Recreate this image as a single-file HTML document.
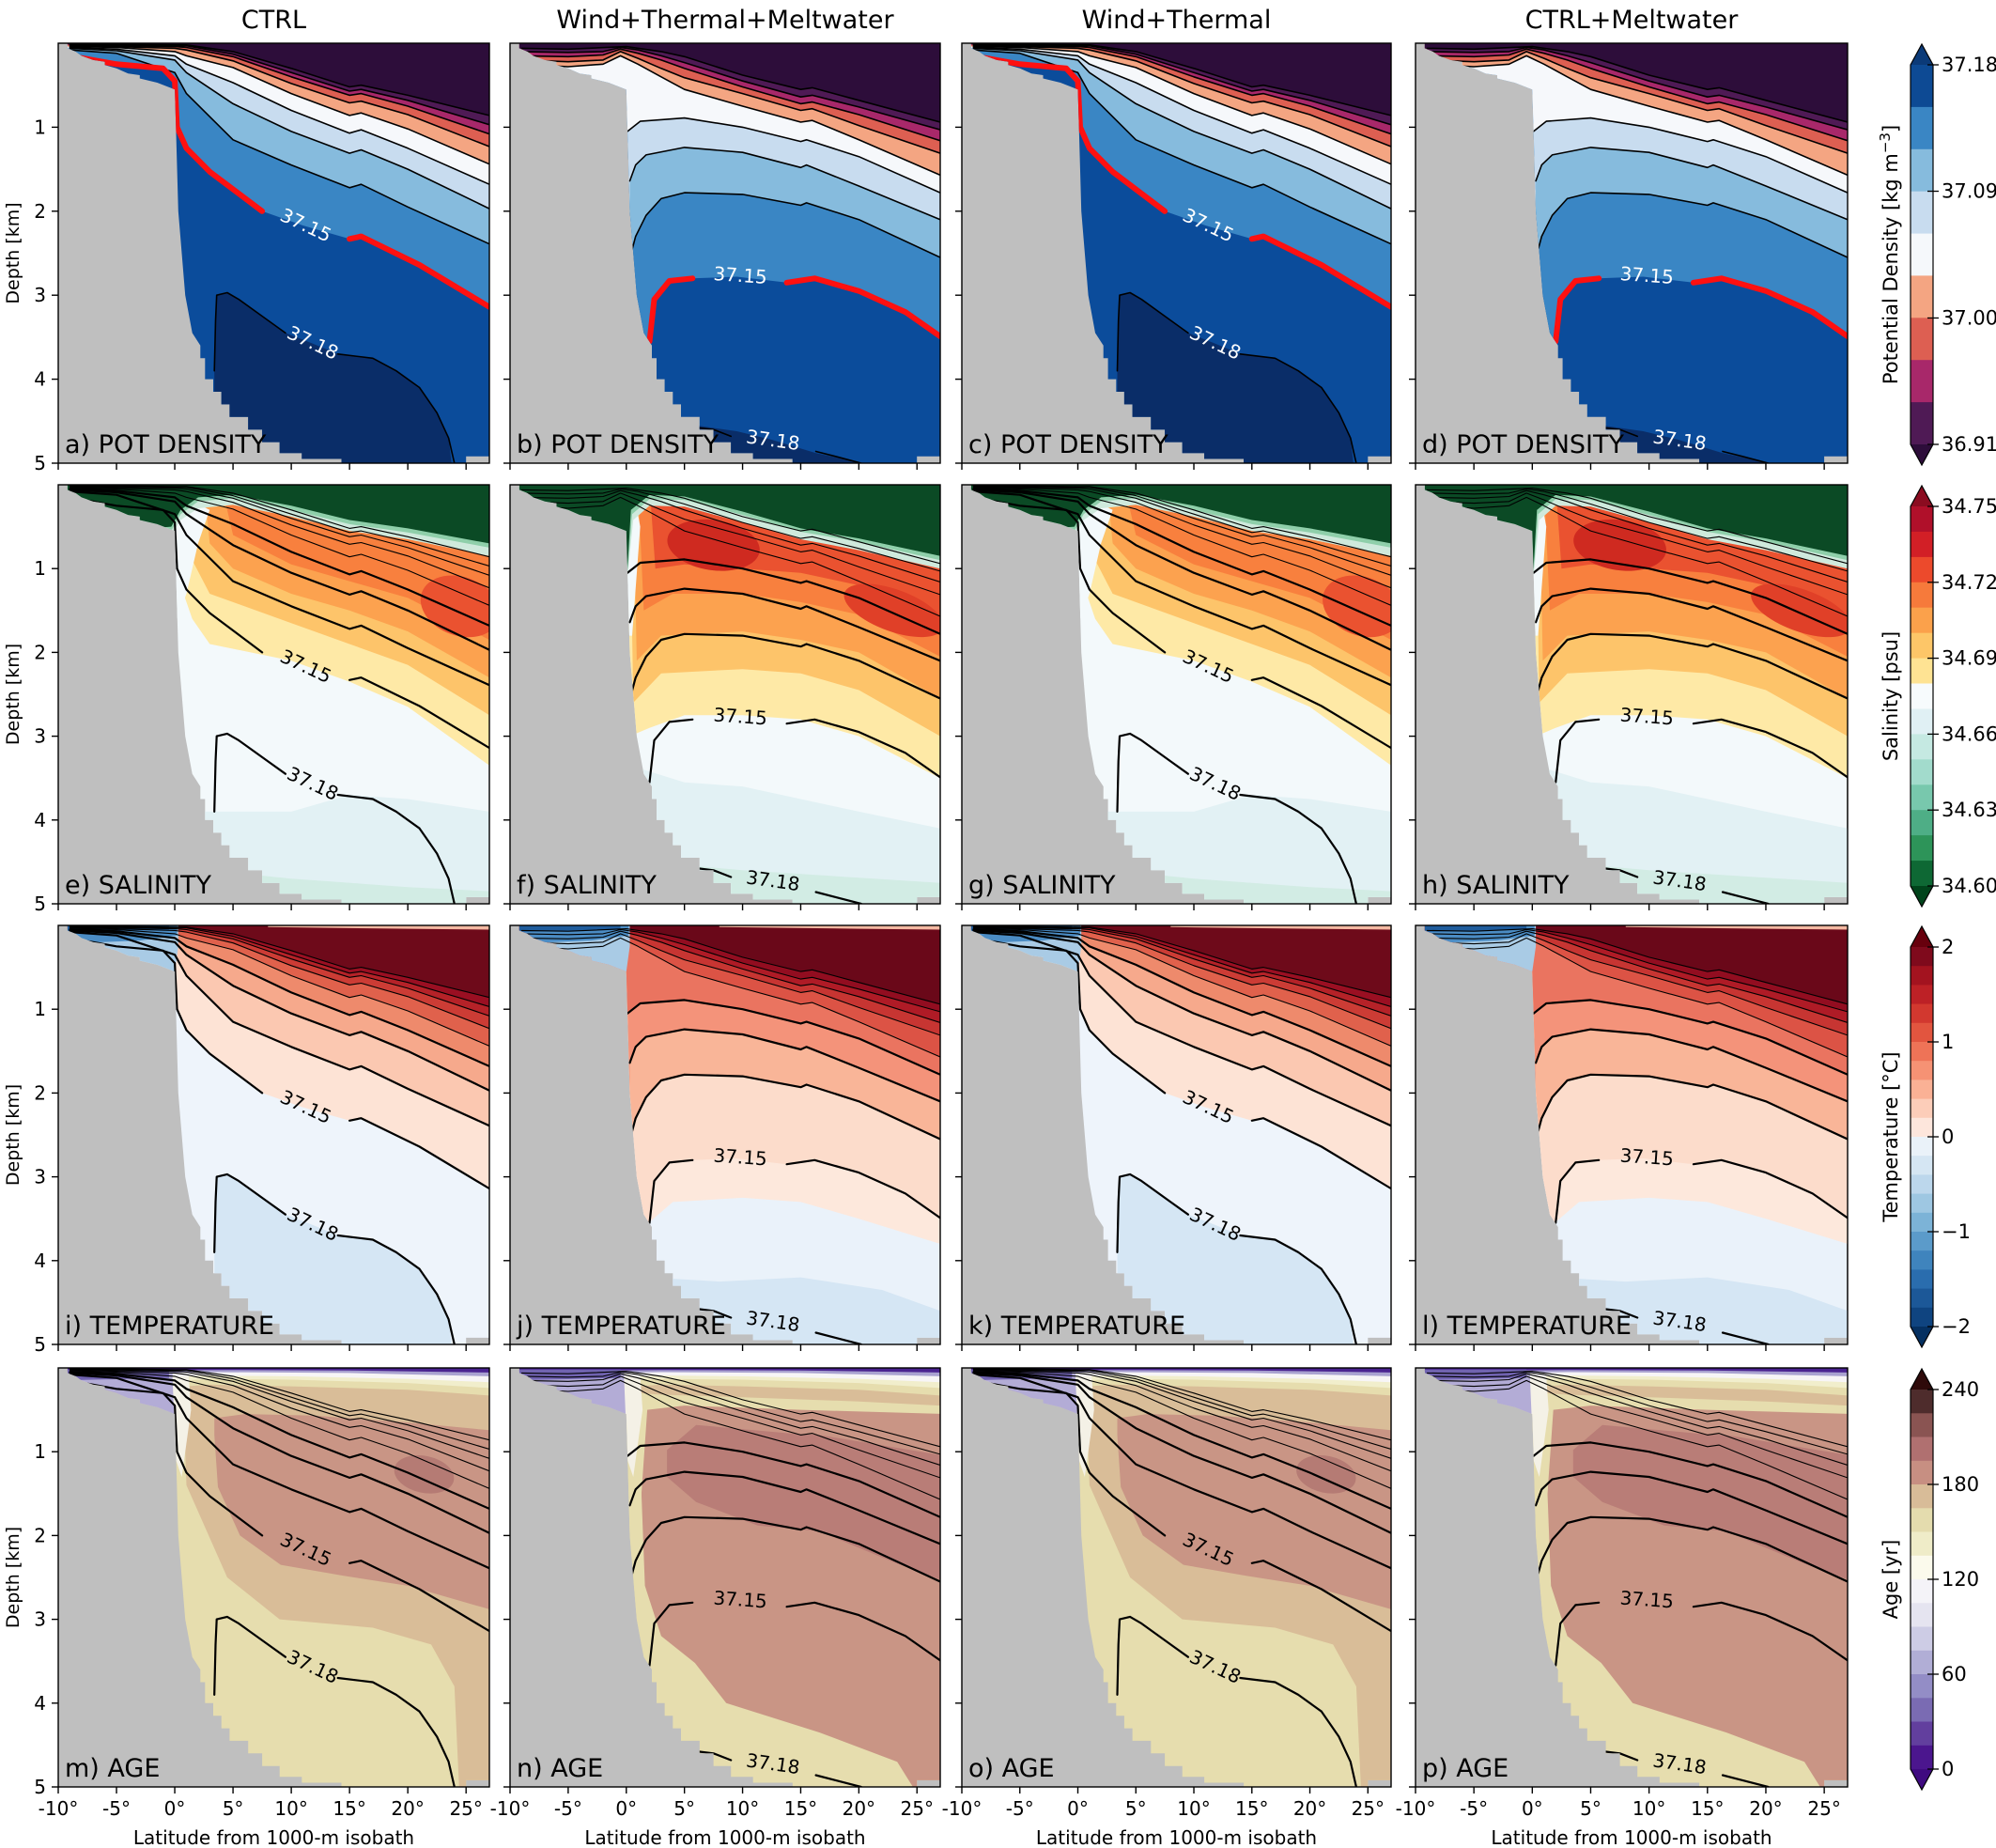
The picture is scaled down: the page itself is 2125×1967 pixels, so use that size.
<!DOCTYPE html>
<html><head><meta charset="utf-8">
<style>body{margin:0;background:#fff}svg{display:block}text{font-family:"DejaVu Sans","Liberation Sans",sans-serif}</style>
</head><body>
<svg id="s" xmlns="http://www.w3.org/2000/svg" width="2125" height="1967" viewBox="0 0 2125 1967"></svg>
<script>
const cols=[[62,521],[543,1001],[1024,1481],[1507,1967]];
const rows=[[46,493],[516,962],[985,1431],[1456,1902]];
let out='',defs='';
function X(c,l){return cols[c][0]+(l+10)/37*(cols[c][1]-cols[c][0]);}
function Y(r,d){return rows[r][0]+d/5*(rows[r][1]-rows[r][0]);}
function pts(c,r,a){return a.map(p=>X(c,p[0]).toFixed(1)+','+Y(r,p[1]).toFixed(1)).join(' ');}
function P(c,r,a,col){out+=`<polygon points="${pts(c,r,a)}" fill="${col}"/>`;}
function above(c,r,cv,col){P(c,r,[[-10.5,cv[0][1]],...cv,[27.5,cv[cv.length-1][1]],[27.5,-1],[-10.5,-1]],col);}
function below(c,r,cv,col){P(c,r,[[-10.5,cv[0][1]],...cv,[27.5,cv[cv.length-1][1]],[27.5,6],[-10.5,6]],col);}
function L(c,r,a,w,col){out+=`<polyline points="${pts(c,r,a)}" fill="none" stroke="${col}" stroke-width="${w}" stroke-linejoin="round" stroke-linecap="round"/>`;}
function E(c,r,l,d,rl,rd,col,rot){const cx=X(c,l),cy=Y(r,d),rx=rl/37*(cols[c][1]-cols[c][0]),ry=rd/5*(rows[r][1]-rows[r][0]);out+=`<ellipse cx="${cx}" cy="${cy}" rx="${rx}" ry="${ry}" fill="${col}" transform="rotate(${rot||0} ${cx} ${cy})"/>`;}
function T(x,y,s,fs,extra){out+=`<text x="${x}" y="${y}" font-size="${fs}" ${extra||''}>${s}</text>`;}
function sub(a,l0){return a.filter(p=>p[0]>=l0);}

const ocean=[[-9.2,0],[27,0],[27,4.92],[25,4.92],[25,5],[14.3,5],[14.3,4.95],[10.9,4.95],[10.9,4.88],[9,4.88],[9,4.75],[7.5,4.75],[7.5,4.6],[6.3,4.6],[6.3,4.45],[4.7,4.45],[4.7,4.3],[4,4.3],[4,4.15],[3.3,4.15],[3.3,4.0],[2.6,4.0],[2.6,3.75],[2.2,3.75],[2.2,3.6],[1.5,3.45],[0.9,3.0],[0.3,2.0],[0.1,1.0],[0,0.55],[-1.5,0.47],[-3,0.42],[-3,0.38],[-4,0.36],[-5,0.3],[-6,0.26],[-6,0.22],[-7,0.2],[-8,0.15],[-8.5,0.1],[-9.2,0.06]];

const Lc=[-10,-9,-5,0,1,5,10,15,16,20,27];
function mk(v){return Lc.map((l,i)=>[l,v[i]]);}
const CT={
 red:[[-10,.15],[-9,.15],[-7,.2],[-5,.25],[-1,.3],[0,.45],[0.2,1.0],[1,1.25],[3,1.53],[7.5,2.0],[11,2.17],[15,2.33],[16,2.3],[21,2.64],[27,3.14]],
 redSeg:[[-9,7.5],[15,27]],
 c:[mk([.08,.08,.12,.35,.6,1.15,1.45,1.72,1.68,1.95,2.39]),
    mk([.06,.06,.09,.2,.35,.72,1.05,1.31,1.27,1.5,1.97]),
    mk([.05,.05,.07,.15,.25,.47,.8,1.07,1.03,1.25,1.68]),
    mk([.04,.04,.05,.1,.15,.29,.6,.86,.83,1.02,1.44]),
    mk([.03,.03,.04,.06,.08,.21,.48,.71,.69,.85,1.23]),
    mk([.02,.02,.03,.04,.05,.16,.4,.62,.6,.75,1.08]),
    mk([.015,.015,.02,.03,.03,.13,.35,.57,.55,.68,.97]),
    mk([.01,.01,.01,.02,.02,.1,.3,.52,.5,.62,.86])],
 cStart:[-9,-9,-9,-9,-9,-9,-9,-9],
 r18:[[3.4,5.3],[3.4,3.9],[3.5,3.3],[3.6,3.0],[4.5,2.97],[5.5,3.05],[8,3.3],[9.5,3.45],[11.75,3.57],[14,3.7],[17,3.75],[19,3.9],[21,4.1],[22.5,4.4],[23.5,4.7],[24,5.3]],
 r18Seg:[[[3.4,3.9],[3.5,3.3],[3.6,3.0],[4.5,2.97],[5.5,3.05],[8,3.3],[9.5,3.45]],[[14,3.7],[17,3.75],[19,3.9],[21,4.1],[22.5,4.4],[23.5,4.7],[24,5]]],
 lab15:[11.2,2.18,25], lab18:[11.8,3.58,25]
};
const MT={
 red:[[-10,5],[1.9,5],[2.0,3.55],[2.4,3.05],[3.7,2.83],[5.7,2.8],[9.5,2.78],[13.8,2.85],[16.2,2.8],[20,2.95],[24,3.2],[27,3.49]],
 redSeg:[[2,5.7],[13.8,27]],
 c:[[[-10,5],[0.3,5],[0.4,2.51],[0.8,2.3],[1.7,2.05],[3,1.85],[5,1.78],[10,1.8],[15,1.93],[15.5,1.9],[20,2.1],[27,2.55]],
    [[-10,5],[0.2,5],[0.3,1.64],[0.8,1.45],[1.7,1.33],[5,1.24],[10,1.3],[15,1.48],[15.5,1.45],[20,1.7],[27,2.1]],
    [[-10,5],[0,5],[0.1,1.05],[1.2,0.93],[5,0.89],[10,1.0],[15,1.17],[15.5,1.15],[20,1.35],[27,1.78]],
    [[-10,.25],[-9,0.25],[-5,0.28],[-2,0.25],[-0.5,0.15],[1,0.25],[3,0.4],[5,0.55],[10,0.75],[15,0.94],[16,0.92],[20,1.15],[27,1.57]],
    [[-10,.2],[-9,0.2],[-5,0.22],[-2,0.2],[-0.5,0.1],[1,0.18],[3,0.3],[5,0.41],[10,0.6],[15,0.8],[16,0.78],[20,0.98],[27,1.31]],
    [[-10,.15],[-9,0.15],[-5,0.16],[-2,0.14],[-0.5,0.07],[1,0.12],[3,0.2],[5,0.3],[10,0.52],[15,0.72],[16,0.7],[20,0.85],[27,1.16]],
    [[-10,.1],[-9,0.1],[-5,0.11],[-2,0.1],[-0.5,0.05],[1,0.08],[3,0.15],[5,0.23],[10,0.45],[15,0.64],[16,0.62],[20,0.76],[27,1.03]],
    [[-10,.06],[-9,0.06],[-5,0.07],[0,0.04],[3,0.1],[5,0.16],[10,0.38],[15,0.55],[16,0.53],[20,0.68],[27,0.94]]],
 cStart:[0.4,0.3,0.1,-9,-9,-9,-9,-9],
 r18:[[6,5.3],[6,4.55],[7,4.57],[9.5,4.62],[12.5,4.72],[16.3,4.88],[18,4.93],[20.2,5.0],[21,5.3]],
 r18Seg:[[[6.3,4.58],[7.5,4.6],[9,4.68]],[[16.3,4.86],[18,4.92],[20.2,5.0]]],
 lab15:[9.8,2.78,4], lab18:[12.6,4.74,8]
};

function densFill(c,r,S,pal){
  out+=`<rect x="${cols[c][0]}" y="${rows[r][0]}" width="${cols[c][1]-cols[c][0]}" height="${rows[r][1]-rows[r][0]}" fill="${pal[1]}"/>`;
  P(c,r,S.r18,pal[0]);
  above(c,r,S.red,pal[2]);
  S.c.forEach((cv,i)=>above(c,r,cv,pal[3+i]));
}
function lines(c,r,S,row){
  const thin=row==0?1.5:1.1, thick=row==0?1.6:2.2;
  S.c.forEach((cv,i)=>{L(c,r,sub(cv,S.cStart[i]),i<3||row==0?(row==0?1.6:thick):thin,'#000');});
  S.r18Seg.forEach(sg=>L(c,r,sg,thick,'#000'));
  const rc=row==0?'#ff1010':'#000', rw=row==0?6:thick;
  S.redSeg.forEach(([a,b])=>L(c,r,S.red.filter(p=>p[0]>=a&&p[0]<=b),rw,rc));
  const fc=row==0?'#fff':'#000';
  [[S.lab15,'37.15'],[S.lab18,'37.18']].forEach(([p,s])=>{const x=X(c,p[0]),y=Y(r,p[1]);
    out+=`<text x="${x}" y="${y}" font-size="20" fill="${fc}" text-anchor="middle" dominant-baseline="middle" transform="rotate(${p[2]} ${x} ${y})">${s}</text>`;});
}

const densPal=['#0a2d68','#0b4c9b','#3a86c4','#86bbdd','#c8dcef','#f6f8fb','#f4a582','#dd5f52','#a8286a','#4f1a55','#2d0d3a'];
const tempPalC=['#d5e6f4','#eef4fb','#fde3d5','#fbc8b1','#f6a98c','#ee8a6c','#e0614c','#cc3c35','#b52228','#9a0f22','#6e0a1a'];
const tempPalM=['#d5e6f4','#f3f6fa','#fcd4c1','#f9b598','#f4937a','#ea7460','#dc5345','#c73532','#af1b26','#920d20','#6a0819'];

function salinity(c,r,melt){
  out+=`<rect x="${cols[c][0]}" y="${rows[r][0]}" width="459" height="447" fill="#f3f9fb"/>`;
  if(!melt){
    below(c,r,[[3,3.9],[10,3.9],[15,3.7],[20,3.75],[27,3.9]],'#e2f1f4');
    below(c,r,[[3,4.6],[10,4.7],[20,4.8],[27,4.85]],'#d2ece4');
    above(c,r,[[-10,0],[0.3,0],[0.5,1.2],[1.5,1.6],[3,1.9],[10,2.1],[15,2.35],[20,2.65],[27,3.35]],'#fee9a6');
    above(c,r,[[-10,0],[1,0],[1.5,0.9],[3,1.3],[10,1.65],[15,1.9],[20,2.15],[27,2.75]],'#fdc46a');
    above(c,r,[[-10,0],[2.5,0],[3,0.7],[5,1.0],[10,1.3],[15,1.5],[20,1.75],[27,2.3]],'#fca24f');
    above(c,r,[[-10,0],[4,0],[5,0.6],[10,0.95],[15,1.15],[20,1.35],[27,1.85]],'#f8803e');
    E(c,r,24.5,1.45,3.5,0.35,'#ea5230',20);
    P(c,r,[[-0.2,0.3],[1.5,0.2],[3,0.3],[2,0.7],[1,1.3],[0.2,1.6]],'#f3f9fb');
    above(c,r,[[-10,0.7],[-0.3,0.6],[0.5,0.42],[2,0.28],[5,0.24],[10,0.38],[15,0.55],[20,0.65],[27,0.85]],'#cfe9dc');
    above(c,r,[[-10,0.6],[-0.3,0.55],[0.5,0.35],[2,0.2],[5,0.16],[10,0.3],[15,0.47],[20,0.57],[27,0.75]],'#8fcfaa');
    above(c,r,[[-10,0.6],[-0.3,0.5],[0.5,0.3],[2,0.15],[5,0.12],[10,0.25],[15,0.42],[20,0.52],[27,0.7]],'#0b4a25');
  } else {
    below(c,r,[[1.5,3.4],[5,3.55],[10,3.6],[20,3.9],[27,4.1]],'#e2f1f4');
    below(c,r,[[2,4.5],[10,4.6],[27,4.75]],'#d2ece4');
    above(c,r,[[-10,0],[0.1,0],[0.3,3.0],[2,2.9],[5,2.75],[10,2.75],[15,2.8],[20,3.0],[27,3.5]],'#fee9a6');
    above(c,r,[[-10,0],[0.3,0],[0.6,2.6],[3,2.25],[10,2.2],[15,2.25],[20,2.45],[27,3.0]],'#fdc46a');
    above(c,r,[[-10,0],[0.6,0],[0.9,2.1],[3,1.8],[10,1.75],[15,1.85],[20,2.0],[27,2.55]],'#fca24f');
    above(c,r,[[-10,0],[1,0],[1.5,1.5],[4,1.3],[10,1.3],[15,1.4],[20,1.55],[27,2.05]],'#f8803e');
    above(c,r,[[-10,0],[2,0],[2.5,1.0],[5,0.95],[10,1.0],[15,1.05],[20,1.2],[27,1.6]],'#ea5230');
    E(c,r,7.5,0.72,4,0.3,'#cf2a20',8);
    E(c,r,23,1.5,4.5,0.25,'#e04028',20);
    P(c,r,[[-0.2,0.3],[0.8,0.2],[1.2,0.5],[0.5,1.8],[0.1,1.8]],'#f3f9fb');
    above(c,r,[[-10,0.7],[-0.2,0.65],[0.1,1.1],[0.6,0.42],[2,0.25],[5,0.26],[10,0.45],[15,0.65],[20,0.78],[27,1.0]],'#cfe9dc');
    above(c,r,[[-10,0.6],[-0.2,0.58],[0.1,1.05],[0.5,0.35],[2,0.17],[5,0.18],[10,0.36],[15,0.56],[20,0.68],[27,0.9]],'#8fcfaa');
    above(c,r,[[-10,0.6],[-0.2,0.55],[0.1,1.0],[0.4,0.3],[2,0.12],[5,0.14],[10,0.32],[15,0.52],[20,0.64],[27,0.85]],'#0b4a25');
  }
}
function temperature(c,r,melt){
  if(!melt){ densFill(c,r,CT,tempPalC); }
  else{
    out+=`<rect x="${cols[c][0]}" y="${rows[r][0]}" width="459" height="447" fill="#eaf2fa"/>`;
    below(c,r,[[2,4.2],[8,4.25],[15,4.2],[22,4.35],[27,4.6]],'#d5e6f4');
    above(c,r,[[-10,5],[1,5],[1.5,3.6],[4,3.3],[10,3.25],[15,3.3],[20,3.5],[27,3.8]],'#fde8dc');
    above(c,r,MT.red,'#fcdccb');
    MT.c.forEach((cv,i)=>above(c,r,cv,tempPalM[3+i]));
  }
  P(c,r,[[-10,-0.1],[0.3,-0.1],[0.3,0.25],[0,0.55],[-10,0.6]],'#a9cbe5');
  P(c,r,[[-10,-0.1],[0.2,-0.1],[0.2,0.12],[-3,0.18],[-10,0.22]],'#4b8cc4');
  P(c,r,[[-10,-0.1],[-0.5,-0.1],[-0.5,0.05],[-10,0.08]],'#1f5c9c');
  P(c,r,[[8,-0.1],[27.5,-0.1],[27.5,0.05],[20,0.04],[8,0.02]],'#f4b9a2');
}
function age(c,r,melt){
  out+=`<rect x="${cols[c][0]}" y="${rows[r][0]}" width="459" height="447" fill="#e6ddae"/>`;
  if(!melt){
    P(c,r,[[0.5,-1],[0.8,0.6],[1,1.4],[4.5,2.5],[9,3.0],[17,3.1],[22,3.3],[24,3.8],[24.5,5.3],[27.5,5.3],[27.5,-1]],'#d9bd98');
    P(c,r,[[3.4,0.6],[3.4,0.8],[3.7,1.42],[5.6,2.0],[9.1,2.35],[14.5,2.48],[20,2.6],[27.5,2.9],[27.5,0.75],[20,0.65],[12,0.57],[6,0.55]],'#c99585');
    E(c,r,21.4,1.27,2.6,0.22,'#b57b74',12);
  } else {
    P(c,r,[[1.8,0.5],[1.3,1.5],[1.6,2.6],[3,3.2],[5.9,3.52],[8.6,4.0],[16.6,4.35],[23.3,4.7],[26,5.3],[27.5,5.3],[27.5,0.55],[15,0.5],[5,0.45]],'#c99585');
    P(c,r,[[3.5,0.98],[6,0.68],[14,0.78],[16.6,0.8],[27.5,1.05],[27.5,2.55],[23,2.32],[16.6,1.95],[11.3,1.88],[6,1.6],[3.5,1.3]],'#b97d77');
    P(c,r,[[0,-1],[0,5],[1.5,5],[1.2,2],[1.5,0.6],[1.8,0.45],[1.5,-1]],'#e6ddae');
  }
  above(c,r,[[-10,0.35],[1,0.3],[3,0.32],[10,0.35],[20,0.4],[27,0.45]],'#d9bd98');
  above(c,r,[[-10,0.25],[1,0.22],[3,0.2],[10,0.22],[20,0.26],[27,0.33]],'#e6ddae');
  above(c,r,[[-10,0.2],[1,0.15],[3,0.13],[10,0.14],[20,0.18],[27,0.24]],'#f1eecc');
  above(c,r,[[-10,0.15],[1,0.1],[3,0.09],[10,0.1],[20,0.13],[27,0.17]],'#f7f5f6');
  above(c,r,[[-10,0.08],[3,0.05],[15,0.06],[27,0.1]],'#a9a2d0');
  above(c,r,[[-10,0.04],[3,0.025],[15,0.03],[27,0.055]],'#4a2390');
  P(c,r,[[-10,0.05],[-0.2,0.05],[0,0.6],[-10,0.6]],'#b3acd6');
  P(c,r,[[-10,0.02],[-0.5,0.02],[-0.5,0.12],[-10,0.15]],'#7063b0');
  P(c,r,[[-0.2,0.1],[1.2,0.1],[1.4,0.5],[0.6,1.3],[0.1,1.1]],'#f4f1e6');
}

const rowNames=['POT DENSITY','SALINITY','TEMPERATURE','AGE'];
const letters='abcdefghijklmnop';
for(let r=0;r<4;r++)for(let c=0;c<4;c++){
  const melt=c%2==1, S=melt?MT:CT;
  const x0=cols[c][0],x1=cols[c][1],y0=rows[r][0],y1=rows[r][1];
  out+=`<rect x="${x0}" y="${y0}" width="${x1-x0}" height="${y1-y0}" fill="#bfbfbf"/>`;
  defs+=`<clipPath id="k${r}${c}"><polygon points="${pts(c,r,ocean)}"/></clipPath>`;
  out+=`<g clip-path="url(#k${r}${c})">`;
  if(r==0) densFill(c,r,S,densPal);
  else if(r==1) salinity(c,r,melt);
  else if(r==2) temperature(c,r,melt);
  else age(c,r,melt);
  lines(c,r,S,r);
  out+='</g>';
  out+=`<rect x="${x0}" y="${y0}" width="${x1-x0}" height="${y1-y0}" fill="none" stroke="#000" stroke-width="1.4"/>`;
  T(x0+7,y1-11,letters[r*4+c]+') '+rowNames[r],27);
  for(let d=1;d<=5;d++){const y=Y(r,d);out+=`<line x1="${x0-7}" y1="${y}" x2="${x0}" y2="${y}" stroke="#000" stroke-width="1.4"/>`;
    if(c==0)T(x0-13,y+7,d,20,'text-anchor="end"');}
  for(let l=-10;l<=25;l+=5){const x=X(c,l);out+=`<line x1="${x}" y1="${y1}" x2="${x}" y2="${y1+7}" stroke="#000" stroke-width="1.4"/>`;
    if(r==3)T(x,y1+30,l+'°',20,'text-anchor="middle"');}
  if(r==3)T((x0+x1)/2,1963,'Latitude from 1000-m isobath',20,'text-anchor="middle"');
  if(c==0){const yc=(y0+y1)/2;out+=`<text x="20" y="${yc}" font-size="19" text-anchor="middle" transform="rotate(-90 20 ${yc})">Depth [km]</text>`;}
}
['CTRL','Wind+Thermal+Meltwater','Wind+Thermal','CTRL+Meltwater'].forEach((s,c)=>T((cols[c][0]+cols[c][1])/2,30,s,27,'text-anchor="middle"'));

function cbar(r,colors,tt,tb,ticks,label){
  const x0=2034,x1=2058,top=rows[r][0]+23,bot=rows[r][0]+427,n=colors.length,h=(bot-top)/n;
  colors.forEach((col,i)=>out+=`<rect x="${x0}" y="${(top+i*h).toFixed(1)}" width="${x1-x0}" height="${(h+0.6).toFixed(1)}" fill="${col}"/>`);
  out+=`<polygon points="${x0},${top} ${(x0+x1)/2},${top-22} ${x1},${top}" fill="${tt}"/>`;
  out+=`<polygon points="${x0},${bot} ${(x0+x1)/2},${bot+22} ${x1},${bot}" fill="${tb}"/>`;
  out+=`<polygon points="${x0},${top} ${(x0+x1)/2},${top-22} ${x1},${top} ${x1},${bot} ${(x0+x1)/2},${bot+22} ${x0},${bot}" fill="none" stroke="#000" stroke-width="1.2"/>`;
  ticks.forEach(([f,s])=>{const y=top+f*(bot-top);out+=`<line x1="${x1-6}" y1="${y}" x2="${x1+6}" y2="${y}" stroke="#000" stroke-width="1.3"/>`;T(x1+9,y+7,s,21);});
  const yc=(top+bot)/2;out+=`<text x="2020" y="${yc}" font-size="21" text-anchor="middle" transform="rotate(-90 2020 ${yc})">${label}</text>`;
}
cbar(0,['#0d4a94','#3a86c4','#86bbdd','#c8dcef','#f5f8fb','#f4a582','#dd5f52','#a8286a','#4f1a55'],'#0b3a78','#2d0d3a',
 [[0,'37.18'],[0.333,'37.09'],[0.667,'37.00'],[1,'36.91']],'Potential Density [kg m<tspan dy="-8" font-size="15">−3</tspan><tspan dy="8">]</tspan>');
cbar(1,['#b0102a','#d21f26','#ec4a2c','#f67a3b','#fba14b','#fdc668','#fee393','#f7fbfd','#e0f0f4','#c5e9e2','#a2dbcc','#78c8ad','#4eae86','#2d9459','#0e6834'],'#8b0c20','#00441b',
 [[0,'34.75'],[0.2,'34.72'],[0.4,'34.69'],[0.6,'34.66'],[0.8,'34.63'],[1,'34.60']],'Salinity [psu]');
cbar(2,['#7f0a1c','#a3131f','#bd2126','#d2382f','#e2553f','#ee7357','#f69274','#fab195','#fccdb9','#fde6dc','#eaf2f9','#d5e6f3','#bcd7ec','#9ec7e2','#7cb3d7','#5b9bca','#3f84bd','#2a6dae','#1c5898','#0f4480'],'#67000d','#053061',
 [[0,'2'],[0.25,'1'],[0.5,'0'],[0.75,'−1'],[1,'−2']],'Temperature [°C]');
cbar(3,['#4e2c2c','#8a5452','#b07070','#c78f82','#d8bc98','#e4dcae','#efecc8','#fbfaec','#f4f3f8','#e5e4f0','#cdcce5','#b1aed6','#938dc6','#7a6bb3','#623f9e','#4b168e'],'#2e0a0a','#3f0a80',
 [[0,'240'],[0.25,'180'],[0.5,'120'],[0.75,'60'],[1,'0']],'Age [yr]');

document.getElementById('s').innerHTML='<defs>'+defs+'</defs>'+out;
</script>
</body></html>
